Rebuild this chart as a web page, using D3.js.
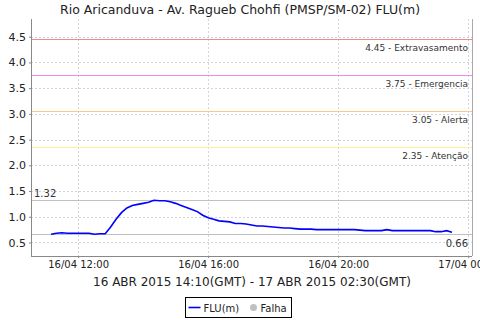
<!DOCTYPE html>
<html>
<head>
<meta charset="utf-8">
<script src="https://cdn.jsdelivr.net/npm/d3@7"></script>
<style>
  body { margin: 0; background: #fff; }
  svg { display: block; font-family: "DejaVu Sans", sans-serif; }
</style>
</head>
<body>
<div id="chart"></div>
<script>
// readings every 10 min, local time, 16/04/2015 11:10 -> 23:30
var startTime = "2015-04-16T11:10:00",
  stepMinutes = 10;
var levels = [
  0.66, 0.68, 0.69, 0.68, 0.68, 0.68, 0.68, 0.68, 0.66, 0.67,
  0.67, 0.80, 0.95, 1.08, 1.17, 1.22, 1.24, 1.26, 1.28, 1.32,
  1.31, 1.31, 1.29, 1.26, 1.22, 1.18, 1.14, 1.10, 1.03, 0.98,
  0.95, 0.92, 0.91, 0.90, 0.87, 0.87, 0.86, 0.84, 0.82, 0.82,
  0.81, 0.80, 0.79, 0.78, 0.78, 0.77, 0.76, 0.76, 0.76, 0.75,
  0.75, 0.75, 0.75, 0.75, 0.75, 0.75, 0.75, 0.74, 0.73, 0.73,
  0.73, 0.73, 0.75, 0.73, 0.73, 0.73, 0.73, 0.73, 0.73, 0.73,
  0.73, 0.71, 0.71, 0.73, 0.70
];
var thresholds = [4.45, 3.75, 3.05, 2.35];
var thresholdNames = ["Extravasamento", "Emergencia", "Alerta", "Atenção"];
var thresholdColors = ["#f08a8a", "#ee88ee", "#ffc48a", "#fff0a0"];
var maxLevel = 1.32, minLevel = 0.66;
var yTicks = [0.5, 1.0, 1.5, 2.0, 2.5, 3.0, 3.5, 4.0, 4.5];
var xTicks = ["2015-04-16T12:00:00", "2015-04-16T16:00:00", "2015-04-16T20:00:00", "2015-04-17T00:00:00"];
var titleText = "Rio Aricanduva - Av. Ragueb Chohfi (PMSP/SM-02) FLU(m)";
var periodText = "16 ABR 2015 14:10(GMT) - 17 ABR 2015 02:30(GMT)";

document.addEventListener("DOMContentLoaded", draw)

function draw() {
  var width = 480,
    height = 320,
    left = 31, right = 472, top = 19, bottom = 256;

  var parse = d3.isoParse;
  var t0 = parse(startTime);
  var data = levels.map((v, i) => {
    return { time: new Date(t0.getTime() + i * stepMinutes * 60000), value: v }
  });

  var svg = d3.select("#chart").append("svg")
    .attr("width", width)
    .attr("height", height)

  var xScale = d3.scaleTime()
    .domain([parse("2015-04-16T10:33:00"), parse("2015-04-17T00:07:00")])
    .range([left, right]),
    yScale = d3.scaleLinear()
    .domain([0.237, 4.844])
    .range([bottom, top]);

  // title
  svg.append("text")
    .attr("x", 240).attr("y", 14)
    .attr("text-anchor", "middle")
    .attr("font-size", 12.5)
    .attr("fill", "#222")
    .text(titleText)

  // grid
  var grid = svg.append("g").attr("stroke", "#d4d4d4").attr("stroke-dasharray", "2,2").attr("stroke-width", 1)
  grid.selectAll(".gy").data(yTicks).enter().append("line")
    .attr("x1", left).attr("x2", right)
    .attr("y1", d => Math.round(yScale(d)) + 0.5).attr("y2", d => Math.round(yScale(d)) + 0.5)
  grid.selectAll(".gx").data(xTicks).enter().append("line")
    .attr("y1", top).attr("y2", bottom)
    .attr("x1", d => Math.round(xScale(parse(d))) + 0.5).attr("x2", d => Math.round(xScale(parse(d))) + 0.5)

  // threshold markers
  var marks = svg.append("g")
  thresholds.forEach((v, i) => {
    var y = Math.round(yScale(v)) + 0.5
    marks.append("line")
      .attr("x1", left).attr("x2", right).attr("y1", y).attr("y2", y)
      .attr("stroke", thresholdColors[i])
    marks.append("text")
      .attr("x", right - 4).attr("y", y + 11)
      .attr("text-anchor", "end")
      .attr("font-size", 9)
      .attr("fill", "#333")
      .text(v.toFixed(2) + " - " + thresholdNames[i])
  })

  // max / min lines
  var yMax = Math.round(yScale(maxLevel)) + 0.5,
    yMin = Math.round(yScale(minLevel)) + 0.5;
  marks.append("line").attr("x1", left).attr("x2", right).attr("y1", yMax).attr("y2", yMax).attr("stroke", "#c0c0c0")
  marks.append("line").attr("x1", left).attr("x2", right).attr("y1", yMin).attr("y2", yMin).attr("stroke", "#c0c0c0")
  marks.append("text").attr("x", left + 3).attr("y", yMax - 4).attr("font-size", 10).attr("fill", "#333").text(maxLevel.toFixed(2))
  marks.append("text").attr("x", right - 4).attr("y", yMin + 12).attr("text-anchor", "end").attr("font-size", 10).attr("fill", "#333").text(minLevel.toFixed(2))

  // series
  var line = d3.line()
    .x(d => xScale(d.time))
    .y(d => yScale(d.value))
  svg.append("path")
    .datum(data)
    .attr("fill", "none")
    .attr("stroke", "#0000ff")
    .attr("stroke-width", 1.6)
    .attr("d", line)

  // axes
  var yAxis = d3.axisLeft(yScale).tickValues(yTicks).tickFormat(d3.format(".1f")).tickSize(2).tickPadding(3)
  var gy = svg.append("g").attr("transform", `translate(${left},0)`).call(yAxis)
  gy.select(".domain").attr("stroke", "#888").attr("d", `M0.5,${top}V${bottom}`)
  gy.selectAll(".tick line").attr("stroke", "#888")
  gy.selectAll("text").attr("font-size", 11).attr("fill", "#222").attr("font-family", "DejaVu Sans")

  var fmt = d3.timeFormat("%d/%m %H:%M")
  var xAxis = d3.axisBottom(xScale).tickValues(xTicks.map(parse)).tickFormat(fmt).tickSize(2).tickPadding(3)
  var gx = svg.append("g").attr("transform", `translate(0,${bottom})`).call(xAxis)
  gx.select(".domain").attr("stroke", "#888").attr("d", `M${left},0.5H${right}`)
  gx.selectAll(".tick line").attr("stroke", "#888")
  gx.selectAll("text").attr("font-size", 10).attr("fill", "#222").attr("font-family", "DejaVu Sans")

  // right border
  svg.append("line").attr("x1", right + 0.5).attr("x2", right + 0.5).attr("y1", top).attr("y2", bottom).attr("stroke", "#aaa")

  // period label
  svg.append("text")
    .attr("x", 252).attr("y", 286)
    .attr("text-anchor", "middle")
    .attr("font-size", 12)
    .attr("fill", "#222")
    .text(periodText)

  // legend
  var lg = svg.append("g").attr("transform", "translate(185.5,297.5)")
  lg.append("rect").attr("width", 106).attr("height", 20).attr("fill", "#fff").attr("stroke", "#000")
  lg.append("line").attr("x1", 3).attr("x2", 15).attr("y1", 10).attr("y2", 10).attr("stroke", "#0000ff").attr("stroke-width", 1.6)
  lg.append("text").attr("x", 18).attr("y", 14).attr("font-size", 10).attr("fill", "#222").text("FLU(m)")
  lg.append("circle").attr("cx", 68).attr("cy", 10).attr("r", 3.5).attr("fill", "#c0c0c0")
  lg.append("text").attr("x", 75).attr("y", 14).attr("font-size", 10).attr("fill", "#222").text("Falha")
}
</script>
</body>
</html>
